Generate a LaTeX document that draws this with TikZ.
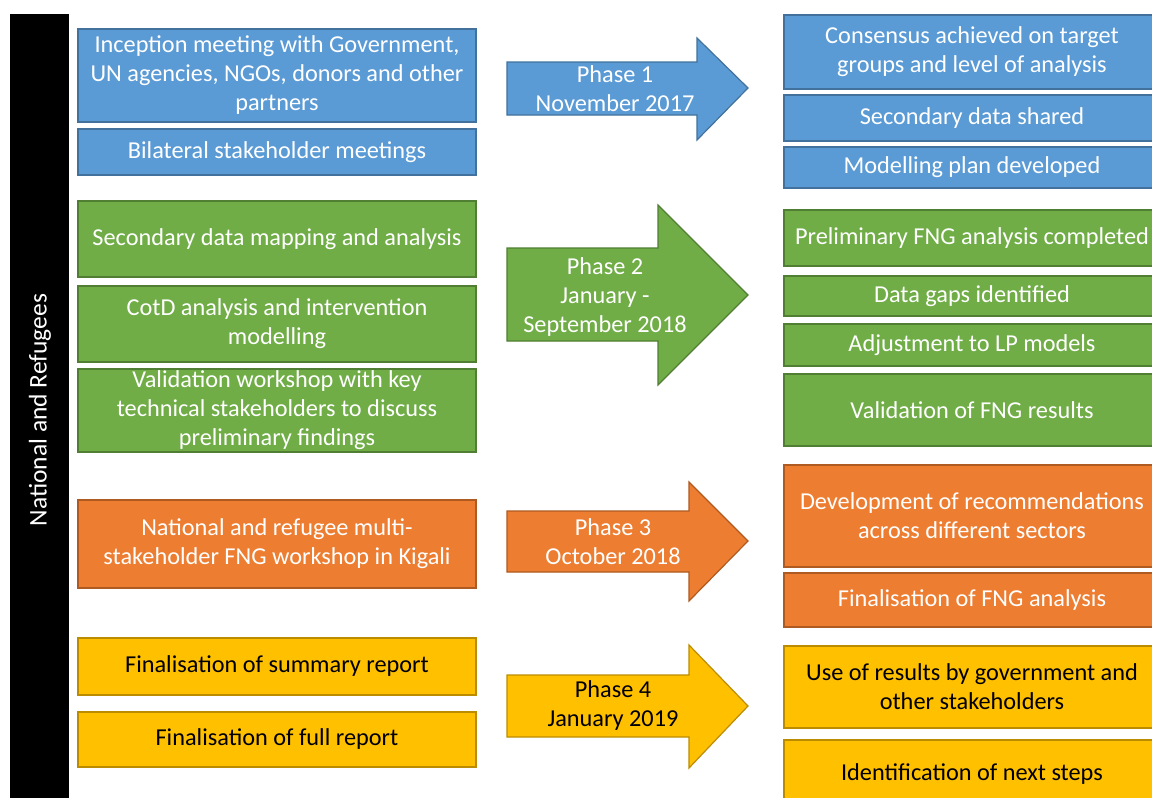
\documentclass[tikz,border=0pt]{standalone}
\usepackage{fontspec}
\setmainfont{Carlito}
\definecolor{bfill}{HTML}{5B9BD5}\definecolor{bline}{HTML}{41719C}
\definecolor{gfill}{HTML}{70AD47}\definecolor{gline}{HTML}{507E32}
\definecolor{ofill}{HTML}{ED7D31}\definecolor{oline}{HTML}{AE5A21}
\definecolor{yfill}{HTML}{FFC000}\definecolor{yline}{HTML}{BC8C00}
\tikzset{
  box/.style={rectangle, line width=1.2pt, align=center, inner sep=0pt,
    font=\fontsize{24.3}{29}\selectfont},
  bbox/.style={box, draw=bline, fill=bfill, text=white},
  gbox/.style={box, draw=gline, fill=gfill, text=white},
  obox/.style={box, draw=oline, fill=ofill, text=white},
  ybox/.style={box, draw=yline, fill=yfill, text=black},
  lbox/.style={minimum width=398pt},
  rbox/.style={minimum width=376pt},
  arrowtext/.style={align=center, font=\fontsize{24.3}{29}\selectfont, inner sep=0pt},
  phase/.style={line width=1.2pt},
}
\begin{document}
\begin{tikzpicture}[x=1pt,y=-1pt]
\useasboundingbox (0,0) rectangle (1152,798);
\clip (0,0) rectangle (1152,798);
\fill[white] (0,0) rectangle (1152,798);
% side bar
\node[fill=black, minimum width=59pt, minimum height=800pt, inner sep=0pt, anchor=north west] (bar) at (10,14) {};
\node[rotate=90, text=white, font=\fontsize{25.5}{29}\selectfont] (barlabel) at (40,410) {National and Refugees};

% left column
\node[bbox, lbox, minimum height=93pt] (l1) at (277,75.5) {Inception meeting with Government,\\UN agencies, NGOs, donors and other\\partners};
\node[bbox, lbox, minimum height=46pt] (l2) at (277,152) {Bilateral stakeholder meetings};
\node[gbox, lbox, minimum height=76pt] (l3) at (277,239) {Secondary data mapping and analysis};
\node[gbox, lbox, minimum height=76pt] (l4) at (277,324) {CotD analysis and intervention\\modelling};
\node[gbox, lbox, minimum height=83pt] (l5) at (277,410.5) {Validation workshop with key\\technical stakeholders to discuss\\preliminary findings};
\node[obox, lbox, minimum height=88pt] (l6) at (277,544) {National and refugee multi-\\stakeholder FNG workshop in Kigali};
\node[ybox, lbox, minimum height=57pt] (l7) at (277,666.5) {Finalisation of summary report};
\node[ybox, lbox, minimum height=55pt] (l8) at (277,739.5) {Finalisation of full report};

% right column
\node[bbox, rbox, minimum height=74pt] (r1) at (972,52) {Consensus achieved on target\\groups and level of analysis};
\node[bbox, rbox, minimum height=46pt] (r2) at (972,118) {Secondary data shared};
\node[bbox, rbox, minimum height=41pt] (r3) at (972,167.5) {Modelling plan developed};
\node[gbox, rbox, minimum height=56pt] (r4) at (972,238) {Preliminary FNG analysis completed};
\node[gbox, rbox, minimum height=40pt] (r5) at (972,296) {Data gaps identified};
\node[gbox, rbox, minimum height=42pt] (r6) at (972,345) {Adjustment to LP models};
\node[gbox, rbox, minimum height=72pt] (r7) at (972,410) {Validation of FNG results};
\node[obox, rbox, minimum height=102pt] (r8) at (972,516) {Development of recommendations\\across different sectors};
\node[obox, rbox, minimum height=54pt] (r9) at (972,600) {Finalisation of FNG analysis};
\node[ybox, rbox, minimum height=82pt] (r10) at (972,687) {Use of results by government and\\other stakeholders};
\node[ybox, rbox, minimum height=68pt] (r11) at (972,774) {Identification of next steps};

% phase arrows
\draw[phase, draw=bline, fill=bfill] (507,62) -- (697,62) -- (697,38) -- (748,88) -- (697,140) -- (697,115) -- (507,115) -- cycle;
\node[arrowtext, text=white] (p1) at (615,89) {Phase 1\\November 2017};
\draw[phase, draw=gline, fill=gfill] (507,248) -- (658,248) -- (658,205) -- (748,295) -- (658,385) -- (658,341) -- (507,341) -- cycle;
\node[arrowtext, text=white] (p2) at (605,297) {Phase 2\\January -\\September 2018};
\draw[phase, draw=oline, fill=ofill] (507,511) -- (689,511) -- (689,482) -- (748,541) -- (689,601) -- (689,572) -- (507,572) -- cycle;
\node[arrowtext, text=white] (p3) at (613,542) {Phase 3\\October 2018};
\draw[phase, draw=yline, fill=yfill] (507,675) -- (689,675) -- (689,645) -- (748,706) -- (689,768) -- (689,737) -- (507,737) -- cycle;
\node[arrowtext, text=black] (p4) at (613,706) {Phase 4\\January 2019};
\end{tikzpicture}
\end{document}
